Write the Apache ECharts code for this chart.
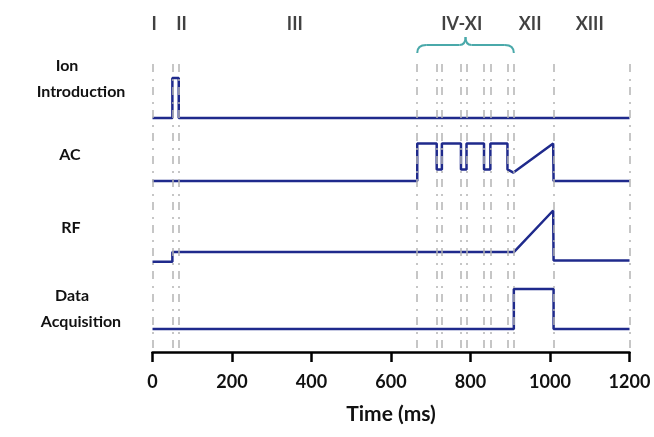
<!DOCTYPE html>
<html>
<head>
<meta charset="utf-8">
<script src="https://cdn.jsdelivr.net/npm/echarts@6/dist/echarts.min.js"></script>
<style>
  html, body { margin: 0; padding: 0; background: #fff; }
  #main { width: 654px; height: 437px; }
</style>
</head>
<body>
<div id="main"></div>
<script>
// time points (ms) and signal levels (1 = full pulse height)
let ionTime = [0, 50, 50, 66, 66, 1200]
let ionLevel = [0, 0, 1, 1, 0, 0]

let acTime = [0, 666, 666, 715, 715, 728, 728, 776, 776, 790, 790, 834, 834, 850, 850, 893, 893, 908, 1008, 1009, 1200]
let acLevel = [0, 0, 0.94, 0.94, 0.29, 0.29, 0.94, 0.94, 0.29, 0.29, 0.94, 0.94, 0.29, 0.29, 0.94, 0.94, 0.29, 0.21, 0.94, 0, 0]

let rfTime = [0, 50, 50, 909, 1008, 1009, 1200]
let rfLevel = [0, 0, 0.24, 0.24, 1.28, 0.03, 0.03]

let daTime = [0, 909, 909, 1009, 1009, 1200]
let daLevel = [0, 0, 1, 1, 0, 0]

// dashed phase boundaries
let boundaries = [0, 50, 66, 666, 715, 728, 776, 790, 834, 850, 893, 909, 1009, 1200]

// phase labels on top
let phaseNames = ['I', 'II', 'III', 'IV-XI', 'XII', 'XIII']
let phaseTime = [4, 73, 358, 778, 950, 1100]

let xTicks = [0, 200, 400, 600, 800, 1000, 1200]

let chart = echarts.init(document.getElementById('main'))
let traceColor = '#1f2a8c'
let font = 'Lato'

function trace(times, levels, base) {
    return {
        type: 'line',
        data: times.map((t, i) => [t, base + levels[i]]),
        showSymbol: false,
        lineStyle: {color: traceColor, width: 2.5},
        z: 3,
        silent: true
    }
}

let option = {
    animation: false,
    grid: {left: 152.5, right: 24.5, top: 10, bottom: 85},
    xAxis: {
        type: 'value',
        min: 0,
        max: 1200,
        interval: 200,
        splitLine: {show: false},
        axisLine: {lineStyle: {color: '#000', width: 2.5}},
        axisTick: {length: 10, lineStyle: {color: '#000', width: 2.5}},
        axisLabel: {
            color: '#111', fontFamily: font, fontWeight: 'bold', fontSize: 18, margin: 21,
            formatter: v => xTicks.indexOf(v) >= 0 ? String(v) : ''
        },
        name: 'Time (ms)',
        nameLocation: 'middle',
        nameGap: 52,
        nameTextStyle: {color: '#111', fontFamily: font, fontWeight: 'bold', fontSize: 21}
    },
    yAxis: {type: 'value', min: 0, max: 8.55, show: false},
    series: [
        {
            type: 'line',
            data: [],
            z: 1,
            silent: true,
            markLine: {
                silent: true,
                symbol: 'none',
                label: {show: false},
                lineStyle: {color: '#b4b4b4', width: 1.5, type: [8, 6, 2, 7]},
                data: boundaries.map(t => [{coord: [t, 0.1]}, {coord: [t, 7.25]}])
            }
        },
        trace(ionTime, ionLevel, 5.85),
        trace(acTime, acLevel, 4.275),
        trace(rfTime, rfLevel, 2.2575),
        trace(daTime, daLevel, 0.575),
        {
            type: 'scatter',
            silent: true,
            clip: false,
            symbolSize: 1,
            itemStyle: {color: 'rgba(0,0,0,0)'},
            data: phaseTime.map((t, i) => ({name: phaseNames[i], value: [t, 8.2]})),
            label: {
                show: true, position: 'inside', formatter: p => p.name,
                color: '#111', fontFamily: font, fontWeight: 'bold', fontSize: 18
            }
        }
    ]
}
chart.setOption(option)

// curly bracket over IV-XI, built from the boundary times
let px = (x, y) => chart.convertToPixel({xAxisIndex: 0, yAxisIndex: 0}, [x, y])
let bl = px(666, 7.475), bm = px(787.5, 7.675), br = px(909, 7.475), bt = px(787.5, 7.875)
let braceStyle = {stroke: '#4aa9aa', lineWidth: 2, fill: null}
let brace = [
    {type: 'bezierCurve', shape: {x1: bl[0], y1: bl[1], cpx1: bl[0], cpy1: bm[1], x2: bl[0] + 9, y2: bm[1]}},
    {type: 'line', shape: {x1: bl[0] + 9, y1: bm[1], x2: bm[0] - 6, y2: bm[1]}},
    {type: 'bezierCurve', shape: {x1: bm[0] - 6, y1: bm[1], cpx1: bm[0], cpy1: bm[1], x2: bm[0], y2: bt[1]}},
    {type: 'bezierCurve', shape: {x1: bm[0], y1: bt[1], cpx1: bm[0], cpy1: bm[1], x2: bm[0] + 6, y2: bm[1]}},
    {type: 'line', shape: {x1: bm[0] + 6, y1: bm[1], x2: br[0] - 9, y2: bm[1]}},
    {type: 'bezierCurve', shape: {x1: br[0] - 9, y1: bm[1], cpx1: br[0], cpy1: bm[1], x2: br[0], y2: br[1]}}
].map(g => Object.assign(g, {style: braceStyle, silent: true}))

let labelStyle = {fill: '#111', font: 'bold 16px Lato', textAlign: 'center', textVerticalAlign: 'middle'}
let leftLabels = [['Ion', 67, 66], ['Introduction', 81, 92], ['AC', 70, 155], ['RF', 71, 228], ['Data', 72, 296], ['Acquisition', 81, 322]]

chart.setOption({
    graphic: brace.concat(leftLabels.map(a => ({
        type: 'text', x: a[1], y: a[2], silent: true, style: Object.assign({text: a[0]}, labelStyle)
    })))
})
</script>
</body>
</html>
